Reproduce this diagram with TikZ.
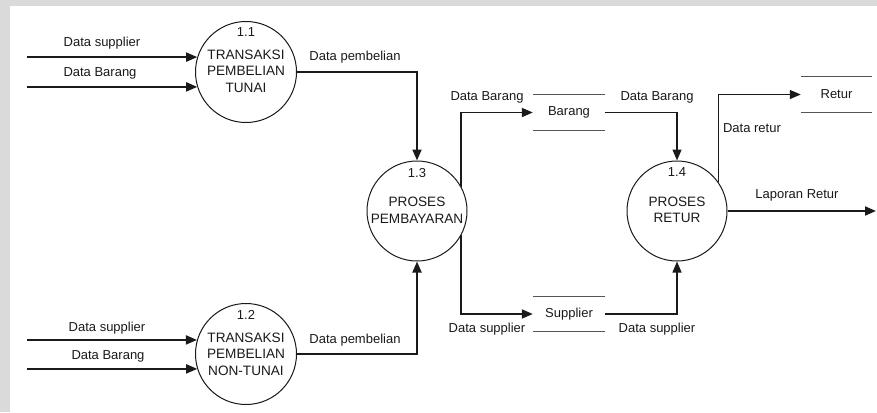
\documentclass[tikz,border=0pt]{standalone}
\usepackage{fontspec}
\setmainfont{Liberation Sans}
\usetikzlibrary{arrows.meta,calc}
\definecolor{band}{HTML}{DADADA}
\definecolor{ink}{HTML}{1A1A1A}
\definecolor{rule}{HTML}{555555}
\begin{document}
\begin{tikzpicture}[x=1pt,y=-1pt,
  every node/.style={font=\fontsize{13}{16}\selectfont, text=ink, inner sep=0pt},
  proc/.style={circle, draw=ink, line width=1pt, minimum size=101pt},
  ptext/.style={align=center, font=\fontsize{13.6}{16.5}\selectfont},
  store/.style={minimum width=72pt, minimum height=35pt},
  flow/.style={draw=ink, line width=1.8pt, -{Triangle[length=11pt,width=9pt]}},
  thinflow/.style={flow, line width=1.3pt},
  storeline/.style={draw=rule, line width=1.2pt}]
% page frame
\fill[band] (0,0) rectangle (877,412);
\fill[white] (10,6) rectangle (877,412);
\useasboundingbox (0,0) rectangle (877,412);

% processes
\node[proc] (p11) at (246,72) {};
\node (n11) at (246,32) {1.1};
\node[ptext] (t11) at (246,71) {TRANSAKSI\\PEMBELIAN\\TUNAI};

\node[proc] (p12) at (246,354) {};
\node (n12) at (246,315) {1.2};
\node[ptext] (t12) at (246,354) {TRANSAKSI\\PEMBELIAN\\NON-TUNAI};

\node[proc, minimum size=100pt] (p13) at (417,211) {};
\node (n13) at (417,173) {1.3};
\node[ptext] (t13) at (417,210) {PROSES\\PEMBAYARAN};

\node[proc, minimum size=100pt] (p14) at (677,211) {};
\node (n14) at (677,172) {1.4};
\node[ptext] (t14) at (677,210) {PROSES\\RETUR};

% data stores
\node[store] (barang) at (569,112.5) {Barang};
\node[store] (supplier) at (569,314) {Supplier};
\node[store, minimum width=71pt] (retur) at (836.5,94.5) {Retur};
\foreach \s in {barang,supplier,retur}{
  \draw[storeline] (\s.north west) -- (\s.north east);
  \draw[storeline] (\s.south west) -- (\s.south east);
}

% external inputs
\coordinate (src) at (27,0);
\draw[flow] (src |- p11.163) -- (p11.163);
\draw[flow] (src |- p11.197) -- (p11.197);
\draw[flow] (src |- p12.164) -- (p12.164);
\draw[flow] (src |- p12.197) -- (p12.197);
\node (ds1) at (102,43) {Data supplier};
\node (db1) at (100,73) {Data Barang};
\node (ds2) at (107,328) {Data supplier};
\node (db2) at (108,356) {Data Barang};

% purchase data into payment
\draw[flow] (p11.east) -| (p13.north);
\draw[flow] (p12.east) -| (p13.south);
\node (dp1) at (355,57) {Data pembelian};
\node (dp2) at (355,340) {Data pembelian};

% payment to stores
\draw[flow] (p13.29) |- (barang.west);
\draw[flow] (p13.-29) |- (supplier.west);
\node (db3) at (487,97) {Data Barang};
\node (ds3) at (487,329) {Data supplier};

% stores to return process
\draw[thinflow] (barang.east) -| (p14.north);
\draw[thinflow] (supplier.east) -| (p14.south);
\node (db4) at (657,97) {Data Barang};
\node (ds4) at (657,329) {Data supplier};

% return outputs
\draw[thinflow] (p14.35) |- (retur.west);
\node (dr) at (752,128) {Data retur};
\coordinate (lapend) at (876,0);
\draw[flow] (p14.east) -- (p14.east -| lapend);
\node (lr) at (797,195) {Laporan Retur};
\end{tikzpicture}
\end{document}
